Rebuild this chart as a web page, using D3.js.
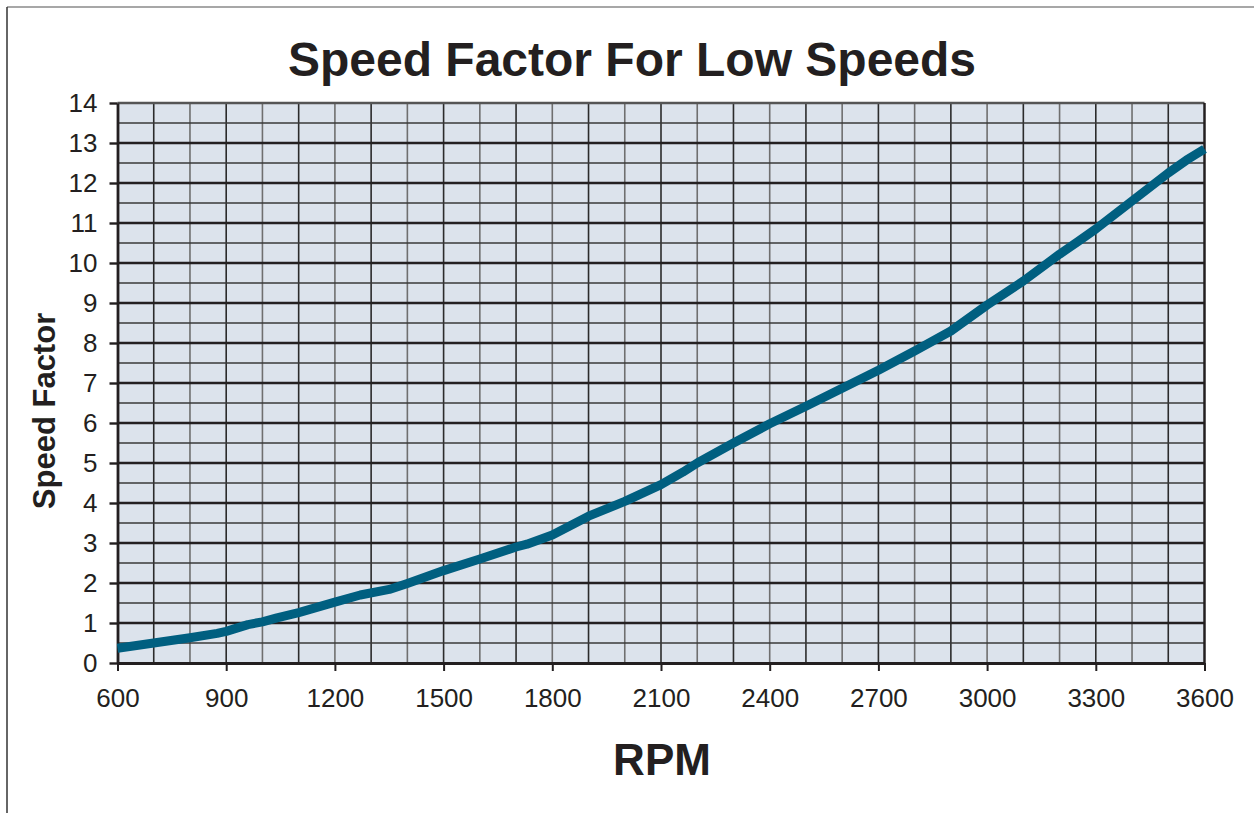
<!DOCTYPE html>
<html>
<head>
<meta charset="utf-8">
<script src="https://cdn.jsdelivr.net/npm/d3@7"></script>
<style>
  html, body { margin: 0; padding: 0; background: #fff; }
  svg { display: block; font-family: "Liberation Sans", Arial, sans-serif; }
</style>
</head>
<body>
<svg id="chart" width="1254" height="813"></svg>
<script>
// ---- data ----
const rpm = [600, 700, 800, 875, 900, 960, 1000, 1040, 1100, 1200, 1270, 1350, 1400, 1500, 1600, 1700, 1730, 1800, 1900, 2000, 2100, 2160, 2200, 2300, 2400, 2500, 2600, 2700, 2800, 2900, 3000, 3100, 3200, 3250, 3300, 3400, 3500, 3550, 3600];
const speedFactor = [0.37, 0.50, 0.63, 0.74, 0.79, 0.96, 1.03, 1.13, 1.26, 1.52, 1.70, 1.84, 1.99, 2.31, 2.60, 2.90, 2.97, 3.20, 3.67, 4.04, 4.46, 4.77, 5.00, 5.50, 5.98, 6.42, 6.87, 7.32, 7.80, 8.30, 8.95, 9.55, 10.22, 10.53, 10.85, 11.55, 12.25, 12.57, 12.85];
const xTicks = [600, 900, 1200, 1500, 1800, 2100, 2400, 2700, 3000, 3300, 3600];
const yTicks = [0, 1, 2, 3, 4, 5, 6, 7, 8, 9, 10, 11, 12, 13, 14];
const title = "Speed Factor For Low Speeds";
const xTitle = "RPM";
const yTitle = "Speed Factor";

const svg = d3.select("#chart");
const W = 1254, H = 813;
const plot = { left: 117.5, right: 1204.5, top: 103, bottom: 663 };

const x = d3.scaleLinear().domain([600, 3600]).range([plot.left, plot.right]);
const y = d3.scaleLinear().domain([0, 14]).range([plot.bottom, plot.top]);

// outer frame
svg.append("line").attr("x1", 7).attr("x2", W).attr("y1", 7).attr("y2", 7)
  .attr("stroke", "#8a8a8a").attr("stroke-width", 1.5);
svg.append("line").attr("x1", 7).attr("x2", 7).attr("y1", 7).attr("y2", H)
  .attr("stroke", "#333").attr("stroke-width", 1.5);

// plot background
svg.append("rect")
  .attr("x", plot.left).attr("y", plot.top)
  .attr("width", plot.right - plot.left).attr("height", plot.bottom - plot.top)
  .attr("fill", "#dce3ec");

// vertical grid every 100 rpm
const vGrid = d3.range(700, 3600, 100);
svg.append("g").selectAll("line").data(vGrid).join("line")
  .attr("x1", d => x(d)).attr("x2", d => x(d))
  .attr("y1", plot.top).attr("y2", plot.bottom)
  .attr("stroke", (d, i) => (i % 2 ? "#6f6f6f" : "#2b2b2b"))
  .attr("stroke-width", 1.6);

// minor horizontal grid (half units)
const hMinor = d3.range(0.5, 14, 1);
svg.append("g").selectAll("line").data(hMinor).join("line")
  .attr("x1", plot.left).attr("x2", plot.right)
  .attr("y1", d => y(d)).attr("y2", d => y(d))
  .attr("stroke", "#3a3a3a").attr("stroke-width", 1.5);

// major horizontal grid (integer units)
svg.append("g").selectAll("line").data(d3.range(1, 14)).join("line")
  .attr("x1", plot.left).attr("x2", plot.right)
  .attr("y1", d => y(d)).attr("y2", d => y(d))
  .attr("stroke", "#231f20").attr("stroke-width", 2.6);

// plot border top / right
svg.append("line").attr("x1", plot.left).attr("x2", plot.right)
  .attr("y1", plot.top).attr("y2", plot.top)
  .attr("stroke", "#555").attr("stroke-width", 2.5);
svg.append("line").attr("x1", plot.right).attr("x2", plot.right)
  .attr("y1", plot.top).attr("y2", plot.bottom)
  .attr("stroke", "#231f20").attr("stroke-width", 2.5);

// axes
const xAxis = d3.axisBottom(x).tickValues(xTicks).tickFormat(d3.format("d"))
  .tickSize(8).tickPadding(18).tickSizeOuter(0);
const gx = svg.append("g").attr("transform", `translate(0,${plot.bottom})`).call(xAxis);
gx.select(".domain").attr("stroke", "#231f20").attr("stroke-width", 2.8);
gx.selectAll(".tick line").attr("stroke", "#231f20").attr("stroke-width", 2);
gx.selectAll(".tick text").attr("font-size", 26).attr("fill", "#231f20")
  .attr("font-family", "Liberation Sans, Arial, sans-serif");

const yAxis = d3.axisLeft(y).tickValues(yTicks).tickFormat(d3.format("d"))
  .tickSize(8).tickPadding(12).tickSizeOuter(0);
const gy = svg.append("g").attr("transform", `translate(${plot.left},0)`).call(yAxis);
gy.select(".domain").attr("stroke", "#231f20").attr("stroke-width", 2.8);
gy.selectAll(".tick line").attr("stroke", "#231f20").attr("stroke-width", 2.4);
gy.selectAll(".tick text").attr("font-size", 26).attr("fill", "#231f20")
  .attr("font-family", "Liberation Sans, Arial, sans-serif");

// data line
const line = d3.line().x((d, i) => x(rpm[i])).y(d => y(d));
svg.append("path").datum(speedFactor)
  .attr("d", line)
  .attr("fill", "none")
  .attr("stroke", "#005f80")
  .attr("stroke-width", 9)
  .attr("stroke-linejoin", "round");

// titles
svg.append("text").attr("x", 632).attr("y", 76)
  .attr("text-anchor", "middle").attr("font-size", 48).attr("font-weight", "bold")
  .attr("fill", "#231f20").text(title);
svg.append("text").attr("x", 662).attr("y", 775)
  .attr("text-anchor", "middle").attr("font-size", 44).attr("font-weight", "bold")
  .attr("fill", "#231f20").text(xTitle);
svg.append("text").attr("transform", "translate(55,411) rotate(-90)")
  .attr("text-anchor", "middle").attr("font-size", 31).attr("font-weight", "bold")
  .attr("fill", "#231f20").text(yTitle);
</script>
</body>
</html>
